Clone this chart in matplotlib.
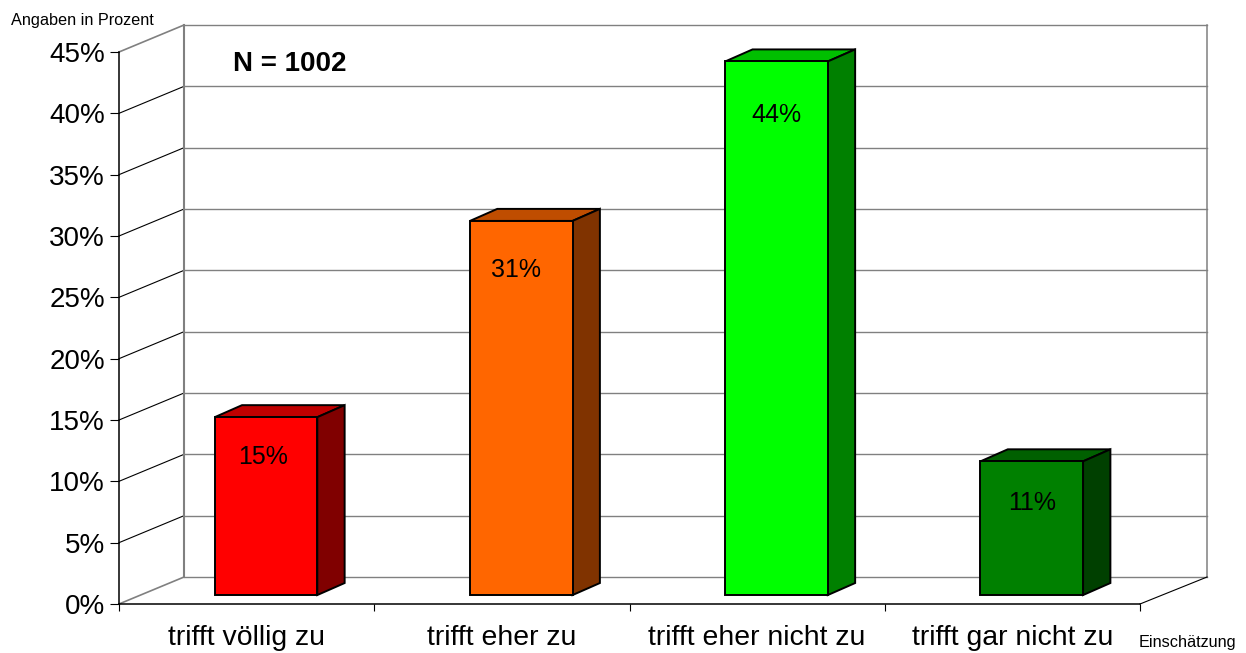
#!/usr/bin/env python3

import matplotlib
matplotlib.use("Agg")
import matplotlib.pyplot as plt
from matplotlib.patches import Polygon

plt.rcParams["font.family"] = ["Liberation Sans", "DejaVu Sans"]
plt.rcParams["text.kerning_factor"] = 0

categories = ["trifft völlig zu", "trifft eher zu", "trifft eher nicht zu", "trifft gar nicht zu"]
values = [14.5, 30.5, 43.5, 10.9]
value_labels = ["15%", "31%", "44%", "11%"]
y_ticks = [0, 5, 10, 15, 20, 25, 30, 35, 40, 45]

front_colors = ["#FF0000", "#FF6600", "#00FF00", "#008000"]
top_colors = ["#BF0000", "#BF4D00", "#00BF00", "#006000"]
side_colors = ["#800000", "#803300", "#008000", "#004000"]

W, H = 1246, 653
GREY = "#808080"

# 3D look, all offsets in data units
WALL_DX, WALL_DY = 0.2547, 2.2
WALL_W = 4.008
BAR_SHIFT, BAR_BASE = 0.076, 0.73
BAR_WIDTH = 0.402
SIDE_DX, SIDE_DY = 0.107, 0.98

fig = plt.figure(figsize=(W / 100, H / 100), dpi=100, facecolor="white")
ax = fig.add_axes([119 / W, (H - 604) / H, (1140 - 119) / W, (604 - 52) / H])
ax.set_xlim(0, 4)
ax.set_ylim(0, 45)
ax.patch.set_visible(False)

for s in ["top", "right"]:
    ax.spines[s].set_visible(False)
for s in ["left", "bottom"]:
    ax.spines[s].set_linewidth(1.1)
    ax.spines[s].set_zorder(2)

# back wall and floor
for y in y_ticks:
    ax.plot([WALL_DX, WALL_DX + WALL_W], [y + WALL_DY] * 2, color=GREY, lw=1.0, clip_on=False, zorder=1)
    edge = GREY if y in (0, 45) else "black"
    ax.plot([0, WALL_DX], [y, y + WALL_DY], color=edge, lw=0.8 if edge == "black" else 1.2,
            clip_on=False, zorder=1)
ax.plot([WALL_DX] * 2, [WALL_DY, 45 + WALL_DY], color=GREY, lw=1.5, clip_on=False, zorder=1)
ax.plot([WALL_DX + WALL_W] * 2, [WALL_DY, 45 + WALL_DY], color=GREY, lw=1.1, clip_on=False, zorder=1)
ax.plot([4, WALL_DX + WALL_W], [0, WALL_DY], color="black", lw=0.8, clip_on=False, zorder=1)

# bars
xs = [i + 0.5 + BAR_SHIFT for i in range(len(values))]
ax.bar(xs, values, BAR_WIDTH, bottom=BAR_BASE, color=front_colors, edgecolor="black",
       linewidth=1.4, zorder=4, clip_on=False)
for x, v, tc, sc in zip(xs, values, top_colors, side_colors):
    x0, x1 = x - BAR_WIDTH / 2, x + BAR_WIDTH / 2
    y0, y1 = BAR_BASE, BAR_BASE + v
    ax.add_patch(Polygon([(x0, y1), (x1, y1), (x1 + SIDE_DX, y1 + SIDE_DY), (x0 + SIDE_DX, y1 + SIDE_DY)],
                         facecolor=tc, edgecolor="black", lw=1.4, zorder=3, clip_on=False))
    ax.add_patch(Polygon([(x1, y0), (x1, y1), (x1 + SIDE_DX, y1 + SIDE_DY), (x1 + SIDE_DX, y0 + SIDE_DY)],
                         facecolor=sc, edgecolor="black", lw=1.4, zorder=3, clip_on=False))

# value labels inside the bars, pixel offset from the bar top
label_offsets = [(-3, -40), (-5, -49), (0, -54), (0, -42)]
for x, v, lab, off in zip(xs, values, value_labels, label_offsets):
    ax.annotate(lab, (x, BAR_BASE + v), xytext=off, textcoords="offset pixels",
                ha="center", va="center", fontsize=18, color="black", zorder=5)

ax.set_yticks(y_ticks)
ax.set_yticklabels([f"{y}%" for y in y_ticks], fontsize=20)
ax.set_xticks(range(5))
ax.set_xticklabels([])
ax.set_xticks([i + 0.5 for i in range(4)], categories, minor=True, fontsize=20.4)
ax.tick_params(axis="x", which="major", length=5, width=0.8)
ax.tick_params(axis="x", which="minor", length=0, pad=15)
ax.tick_params(axis="y", which="major", length=6.5, width=0.8, pad=3.5)

ax.text(233 / W, (H - 64) / H, "N = 1002", transform=fig.transFigure, fontsize=20, fontweight="bold",
        ha="left", va="center")
fig.text(11 / W, (H - 20) / H, "Angaben in Prozent", fontsize=11.7, ha="left", va="center")
fig.text(1139 / W, (H - 643) / H, "Einschätzung", fontsize=11.7, ha="left", va="center")

fig.savefig("out.png", dpi=100)
